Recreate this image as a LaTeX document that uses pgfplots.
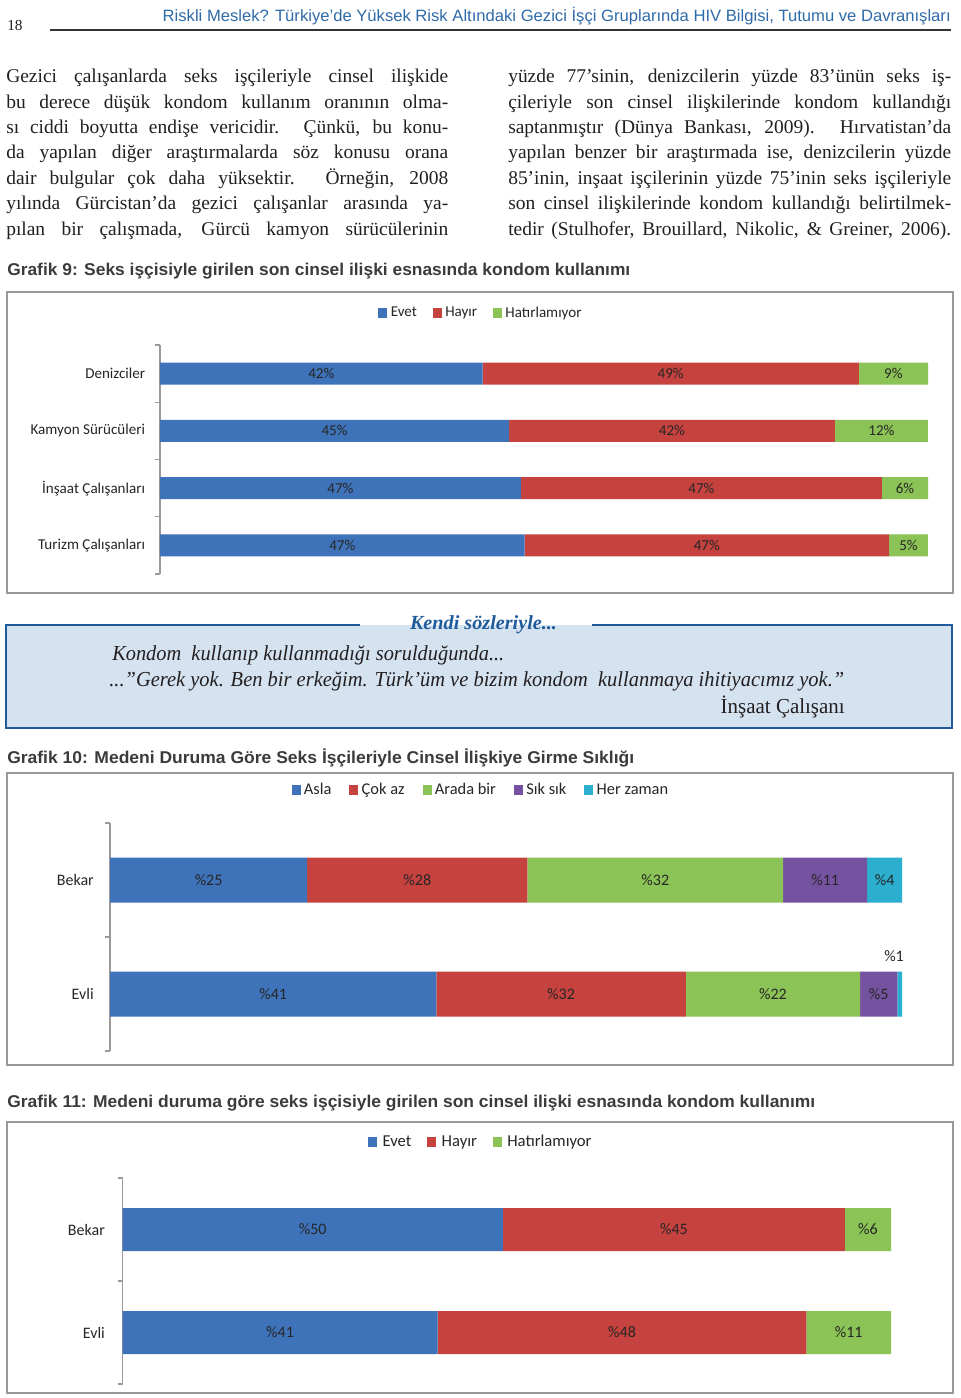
\documentclass[border=0pt]{standalone}
\usepackage{pgfplots}
\pgfplotsset{compat=1.18}
\usepackage{pgfplotstable}
\usepackage{graphicx}
\usepackage{fontspec}
\setmainfont{Liberation Serif}
\newfontfamily\bodyfont{Liberation Serif}
\newfontfamily\calibri{Carlito}
\newfontfamily\hsans{Liberation Sans}

\definecolor{cblue}{HTML}{3F73B9}
\definecolor{cred}{HTML}{C5423F}
\definecolor{cgreen}{HTML}{8CC356}
\definecolor{cpurple}{HTML}{7452A0}
\definecolor{ccyan}{HTML}{2CAECE}
\definecolor{lblcol}{HTML}{262626}
\definecolor{axgray}{HTML}{9A9A9A}
\definecolor{framegray}{HTML}{9A9A9A}
\definecolor{hdrblue}{HTML}{2F6AA8}
\definecolor{ttlcol}{HTML}{3B3B3B}
\definecolor{txtcol}{HTML}{231F20}
\definecolor{qfill}{HTML}{D5E2F0}
\definecolor{qblue}{HTML}{1F5B9B}

% Grafik 9 (y: 3 Denizciler, 2 Kamyon, 1 Insaat, 0 Turizm); x = share of bar
\pgfplotstableread{
x y
42 3
45.45 2
47 1
47.47 0
}\gaEvet
\pgfplotstableread{
x y
49 3
42.42 2
47 1
47.47 0
}\gaHayir
\pgfplotstableread{
x y
9 3
12.12 2
6 1
5.05 0
}\gaHat
% Grafik 10 (y: 1 Bekar, 0 Evli)
\pgfplotstableread{
x y
24.9 1
41.2 0
}\gbAsla
\pgfplotstableread{
x y
27.8 1
31.5 0
}\gbCok
\pgfplotstableread{
x y
32.3 1
22.0 0
}\gbArada
\pgfplotstableread{
x y
10.6 1
4.7 0
}\gbSik
\pgfplotstableread{
x y
4.4 1
0.6 0
}\gbHer
% Grafik 11
\pgfplotstableread{
x y
49.5 1
41 0
}\gcEvet
\pgfplotstableread{
x y
44.5 1
48 0
}\gcHayir
\pgfplotstableread{
x y
6 1
11 0
}\gcHat

% small values (below 1) raised above the bar
\newcommand{\seglabup}{%
  \pgfmathsetlengthmacro\segshift{(\pgfplotspointmeta<1)*4.2pt}%
  \pgfmathsetlengthmacro\segrise{(\pgfplotspointmeta<1)*57pt}%
  \raisebox{\segrise}{\hbox to 0pt{\hss\hbox to 0pt{\hss\%\pgfmathprintnumber[fixed,precision=0]{\pgfplotspointmeta}\hss}\kern\segshift}}}

\pgfplotsset{
  sbar/.style={draw=none, fill=#1},
  stackchart/.style={
    scale only axis, anchor=north west, xbar stacked,
    xmin=0, xmax=100, axis x line=none, axis y line*=left,
    major tick length=0pt, minor tick length=3.75pt, tick align=outside,
    axis line style={draw=axgray, line width=0.8pt},
    y axis line style={draw=axgray, line width=0.8pt},
    tick style={draw=axgray, line width=0.8pt},
    minor tick style={draw=axgray, line width=0.8pt},
    point meta=explicit symbolic,
    /pgf/number format/assume math mode=true,
    nodes near coords align=center,
    clip=false,
    legend columns=-1,
    legend image code/.code={\fill[##1] (0pt,-3.4pt) rectangle (6.75pt,3.4pt);},
    legend style={draw=none, fill=none, inner sep=0pt, anchor=center,
      nodes={inner sep=0pt, text=lblcol}},
  },
}

\begin{document}
\begin{tikzpicture}
\begin{scope}[x=0.75pt,y=-0.75pt]
\path[use as bounding box, fill=white] (0,0) rectangle (960,1398);
% header
\node[anchor=base west, inner sep=0, text=txtcol] at (7,31) {\bodyfont\fontsize{11.5pt}{14pt}\selectfont 18};
\node[anchor=base east, inner sep=0] at (951,22) {\resizebox{591pt}{\height}{\color{hdrblue}\hsans\fontsize{12.3pt}{14pt}\selectfont Riskli Meslek? Türkiye’de Yüksek Risk Altındaki Gezici İşçi Gruplarında HIV Bilgisi, Tutumu ve Davranışları}};
\draw[black!80, line width=0.8pt] (50,30) -- (951,30);
% body text
\begin{scope}[every node/.style={anchor=base west, inner sep=0, text=txtcol}]
\node at (6,83) {\hbox to 331.5pt{\bodyfont\fontsize{14.6pt}{18pt}\selectfont Gezici çalışanlarda seks işçileriyle cinsel ilişkide}};
\node at (6,108.5) {\hbox to 331.5pt{\bodyfont\fontsize{14.6pt}{18pt}\selectfont bu derece düşük kondom kullanım oranının olma-}};
\node at (6,134) {\hbox to 331.5pt{\bodyfont\fontsize{14.6pt}{18pt}\selectfont sı ciddi boyutta endişe vericidir. Çünkü, bu konu-}};
\node at (6,159) {\hbox to 331.5pt{\bodyfont\fontsize{14.6pt}{18pt}\selectfont da yapılan diğer araştırmalarda söz konusu orana}};
\node at (6,184.5) {\hbox to 331.5pt{\bodyfont\fontsize{14.6pt}{18pt}\selectfont dair bulgular çok daha yüksektir. Örneğin, 2008}};
\node at (6,210) {\hbox to 331.5pt{\bodyfont\fontsize{14.6pt}{18pt}\selectfont yılında Gürcistan’da gezici çalışanlar arasında ya-}};
\node at (6,235.5) {\hbox to 331.5pt{\bodyfont\fontsize{14.6pt}{18pt}\selectfont pılan bir çalışmada, Gürcü kamyon sürücülerinin}};
\node at (508,83) {\hbox to 332.25pt{\bodyfont\fontsize{14.6pt}{18pt}\selectfont yüzde 77’sinin, denizcilerin yüzde 83’ünün seks iş-}};
\node at (508,108.5) {\hbox to 332.25pt{\bodyfont\fontsize{14.6pt}{18pt}\selectfont çileriyle son cinsel ilişkilerinde kondom kullandığı}};
\node at (508,134) {\hbox to 332.25pt{\bodyfont\fontsize{14.6pt}{18pt}\selectfont saptanmıştır (Dünya Bankası, 2009). Hırvatistan’da}};
\node at (508,159) {\hbox to 332.25pt{\bodyfont\fontsize{14.6pt}{18pt}\selectfont yapılan benzer bir araştırmada ise, denizcilerin yüzde}};
\node at (508,184.5) {\hbox to 332.25pt{\bodyfont\fontsize{14.6pt}{18pt}\selectfont 85’inin, inşaat işçilerinin yüzde 75’inin seks işçileriyle}};
\node at (508,210) {\hbox to 332.25pt{\bodyfont\fontsize{14.6pt}{18pt}\selectfont son cinsel ilişkilerinde kondom kullandığı belirtilmek-}};
\node at (508,235.5) {\hbox to 332.25pt{\bodyfont\fontsize{14.6pt}{18pt}\selectfont tedir (Stulhofer, Brouillard, Nikolic, \& Greiner, 2006).}};
\end{scope}
% titles
\node[anchor=base west, inner sep=0] at (7,276) {\resizebox{467.25pt}{\height}{\color{ttlcol}\hsans\bfseries\fontsize{12.8pt}{15pt}\selectfont Grafik 9: Seks işçisiyle girilen son cinsel ilişki esnasında kondom kullanımı}};
\node[anchor=base west, inner sep=0] at (7,763) {\resizebox{470.25pt}{\height}{\color{ttlcol}\hsans\bfseries\fontsize{12.8pt}{15pt}\selectfont Grafik 10: Medeni Duruma Göre Seks İşçileriyle Cinsel İlişkiye Girme Sıklığı}};
\node[anchor=base west, inner sep=0] at (7,1107) {\resizebox{606pt}{\height}{\color{ttlcol}\hsans\bfseries\fontsize{12.8pt}{15pt}\selectfont Grafik 11: Medeni duruma göre seks işçisiyle girilen son cinsel ilişki esnasında kondom kullanımı}};
% frames
\draw[framegray, line width=1.1pt] (7,292) rectangle (953,593);
\draw[framegray, line width=1.1pt] (7,773) rectangle (953,1065);
\draw[framegray, line width=1.1pt] (7,1122) rectangle (953,1393);
% quote box
\fill[qfill] (6,625) rectangle (952,728);
\draw[qblue, line width=2pt] (360,625) -- (6,625) -- (6,728) -- (952,728) -- (952,625) -- (592,625);
\node[anchor=base, inner sep=0] at (483.5,629) {\resizebox{110.25pt}{\height}{\color{qblue}\bfseries\itshape\fontsize{15pt}{17pt}\selectfont Kendi sözleriyle...}};
\node[anchor=base west, inner sep=0, text=txtcol] at (112,660) {\resizebox{294pt}{\height}{\itshape\fontsize{16pt}{18pt}\selectfont Kondom\ \ kullanıp kullanmadığı sorulduğunda...}};
\node[anchor=base west, inner sep=0, text=txtcol] at (109,686) {\resizebox{551.25pt}{\height}{\itshape\fontsize{16pt}{18pt}\selectfont ...”Gerek yok. Ben bir erkeğim. Türk’üm ve bizim kondom\ \ kullanmaya ihitiyacımız yok.”}};
\node[anchor=base east, inner sep=0, text=txtcol] at (845,713) {\resizebox{93pt}{\height}{\fontsize{16pt}{18pt}\selectfont İnşaat Çalışanı}};
\end{scope}

% ---------- Grafik 9 ----------
\begin{axis}[stackchart,
  at={(120pt,-258.75pt)}, width=576pt, height=171.75pt,
  bar width=16.5pt, ymin=-0.5, ymax=3.5,
  ytick={0,1,2,3},
  yticklabels={Turizm Çalışanları,İnşaat Çalışanları,Kamyon Sürücüleri,Denizciler},
  minor ytick={-0.5,0.5,1.5,2.5,3.5},
  yticklabel style={font=\calibri\fontsize{11.3pt}{13pt}\selectfont, text=lblcol, inner sep=0pt, xshift=-11pt},
  legend style={at={(0.4167,1)}, yshift=24pt, font=\calibri\fontsize{11.3pt}{13pt}\selectfont,
    /tikz/every odd column/.append style={column sep=2.5pt},
    /tikz/every even column/.append style={column sep=12pt}},
  nodes near coords={\pgfmathprintnumber[fixed,precision=0]{\pgfplotspointmeta}\%},
  every node near coord/.append style={font=\calibri\fontsize{11.3pt}{13pt}\selectfont, text=lblcol, anchor=center},
]
\addplot[sbar=cblue] table[x=x,y=y,meta=x] {\gaEvet};
\addplot[sbar=cred] table[x=x,y=y,meta=x] {\gaHayir};
\addplot[sbar=cgreen] table[x=x,y=y,meta=x] {\gaHat};
\legend{Evet,Hayır,Hatırlamıyor}
\end{axis}

% ---------- Grafik 10 ----------
\begin{axis}[stackchart,
  at={(82.5pt,-617.25pt)}, width=594pt, height=171pt,
  bar width=33.75pt, ymin=-0.5, ymax=1.5,
  ytick={0,1}, yticklabels={Evli,Bekar},
  minor ytick={-0.5,0.5,1.5},
  yticklabel style={font=\calibri\fontsize{12pt}{14pt}\selectfont, text=lblcol, inner sep=0pt, xshift=-12pt},
  legend style={at={(0.467,1)}, yshift=24.75pt, font=\calibri\fontsize{12.3pt}{14pt}\selectfont,
    /tikz/every odd column/.append style={column sep=2.5pt},
    /tikz/every even column/.append style={column sep=13.5pt}},
  nodes near coords={\%\pgfmathprintnumber[fixed,precision=0]{\pgfplotspointmeta}},
  every node near coord/.append style={font=\calibri\fontsize{12pt}{14pt}\selectfont, text=lblcol, anchor=center},
]
\addplot[sbar=cblue] table[x=x,y=y,meta=x] {\gbAsla};
\addplot[sbar=cred] table[x=x,y=y,meta=x] {\gbCok};
\addplot[sbar=cgreen] table[x=x,y=y,meta=x] {\gbArada};
\addplot[sbar=cpurple] table[x=x,y=y,meta=x] {\gbSik};
\addplot[sbar=ccyan, nodes near coords={\seglabup}] table[x=x,y=y,meta=x] {\gbHer};
\legend{Asla,Çok az,Arada bir,Sık sık,Her zaman}
\end{axis}

% ---------- Grafik 11 ----------
\begin{axis}[stackchart,
  at={(91.875pt,-883.5pt)}, width=576.375pt, height=154.5pt,
  bar width=32.25pt, ymin=-0.5, ymax=1.5,
  ytick={0,1}, yticklabels={Evli,Bekar},
  minor ytick={-0.5,0.5,1.5},
  yticklabel style={font=\calibri\fontsize{12pt}{14pt}\selectfont, text=lblcol, inner sep=0pt, xshift=-13pt},
  legend style={at={(0.465,1)}, yshift=27pt, font=\calibri\fontsize{12.5pt}{14pt}\selectfont,
    /tikz/every odd column/.append style={column sep=4pt},
    /tikz/every even column/.append style={column sep=12pt}},
  nodes near coords={\%\pgfmathprintnumber[fixed,precision=0]{\pgfplotspointmeta}},
  every node near coord/.append style={font=\calibri\fontsize{12pt}{14pt}\selectfont, text=lblcol, anchor=center},
]
\addplot[sbar=cblue] table[x=x,y=y,meta=x] {\gcEvet};
\addplot[sbar=cred] table[x=x,y=y,meta=x] {\gcHayir};
\addplot[sbar=cgreen] table[x=x,y=y,meta=x] {\gcHat};
\legend{Evet,Hayır,Hatırlamıyor}
\end{axis}
\end{tikzpicture}
\end{document}
